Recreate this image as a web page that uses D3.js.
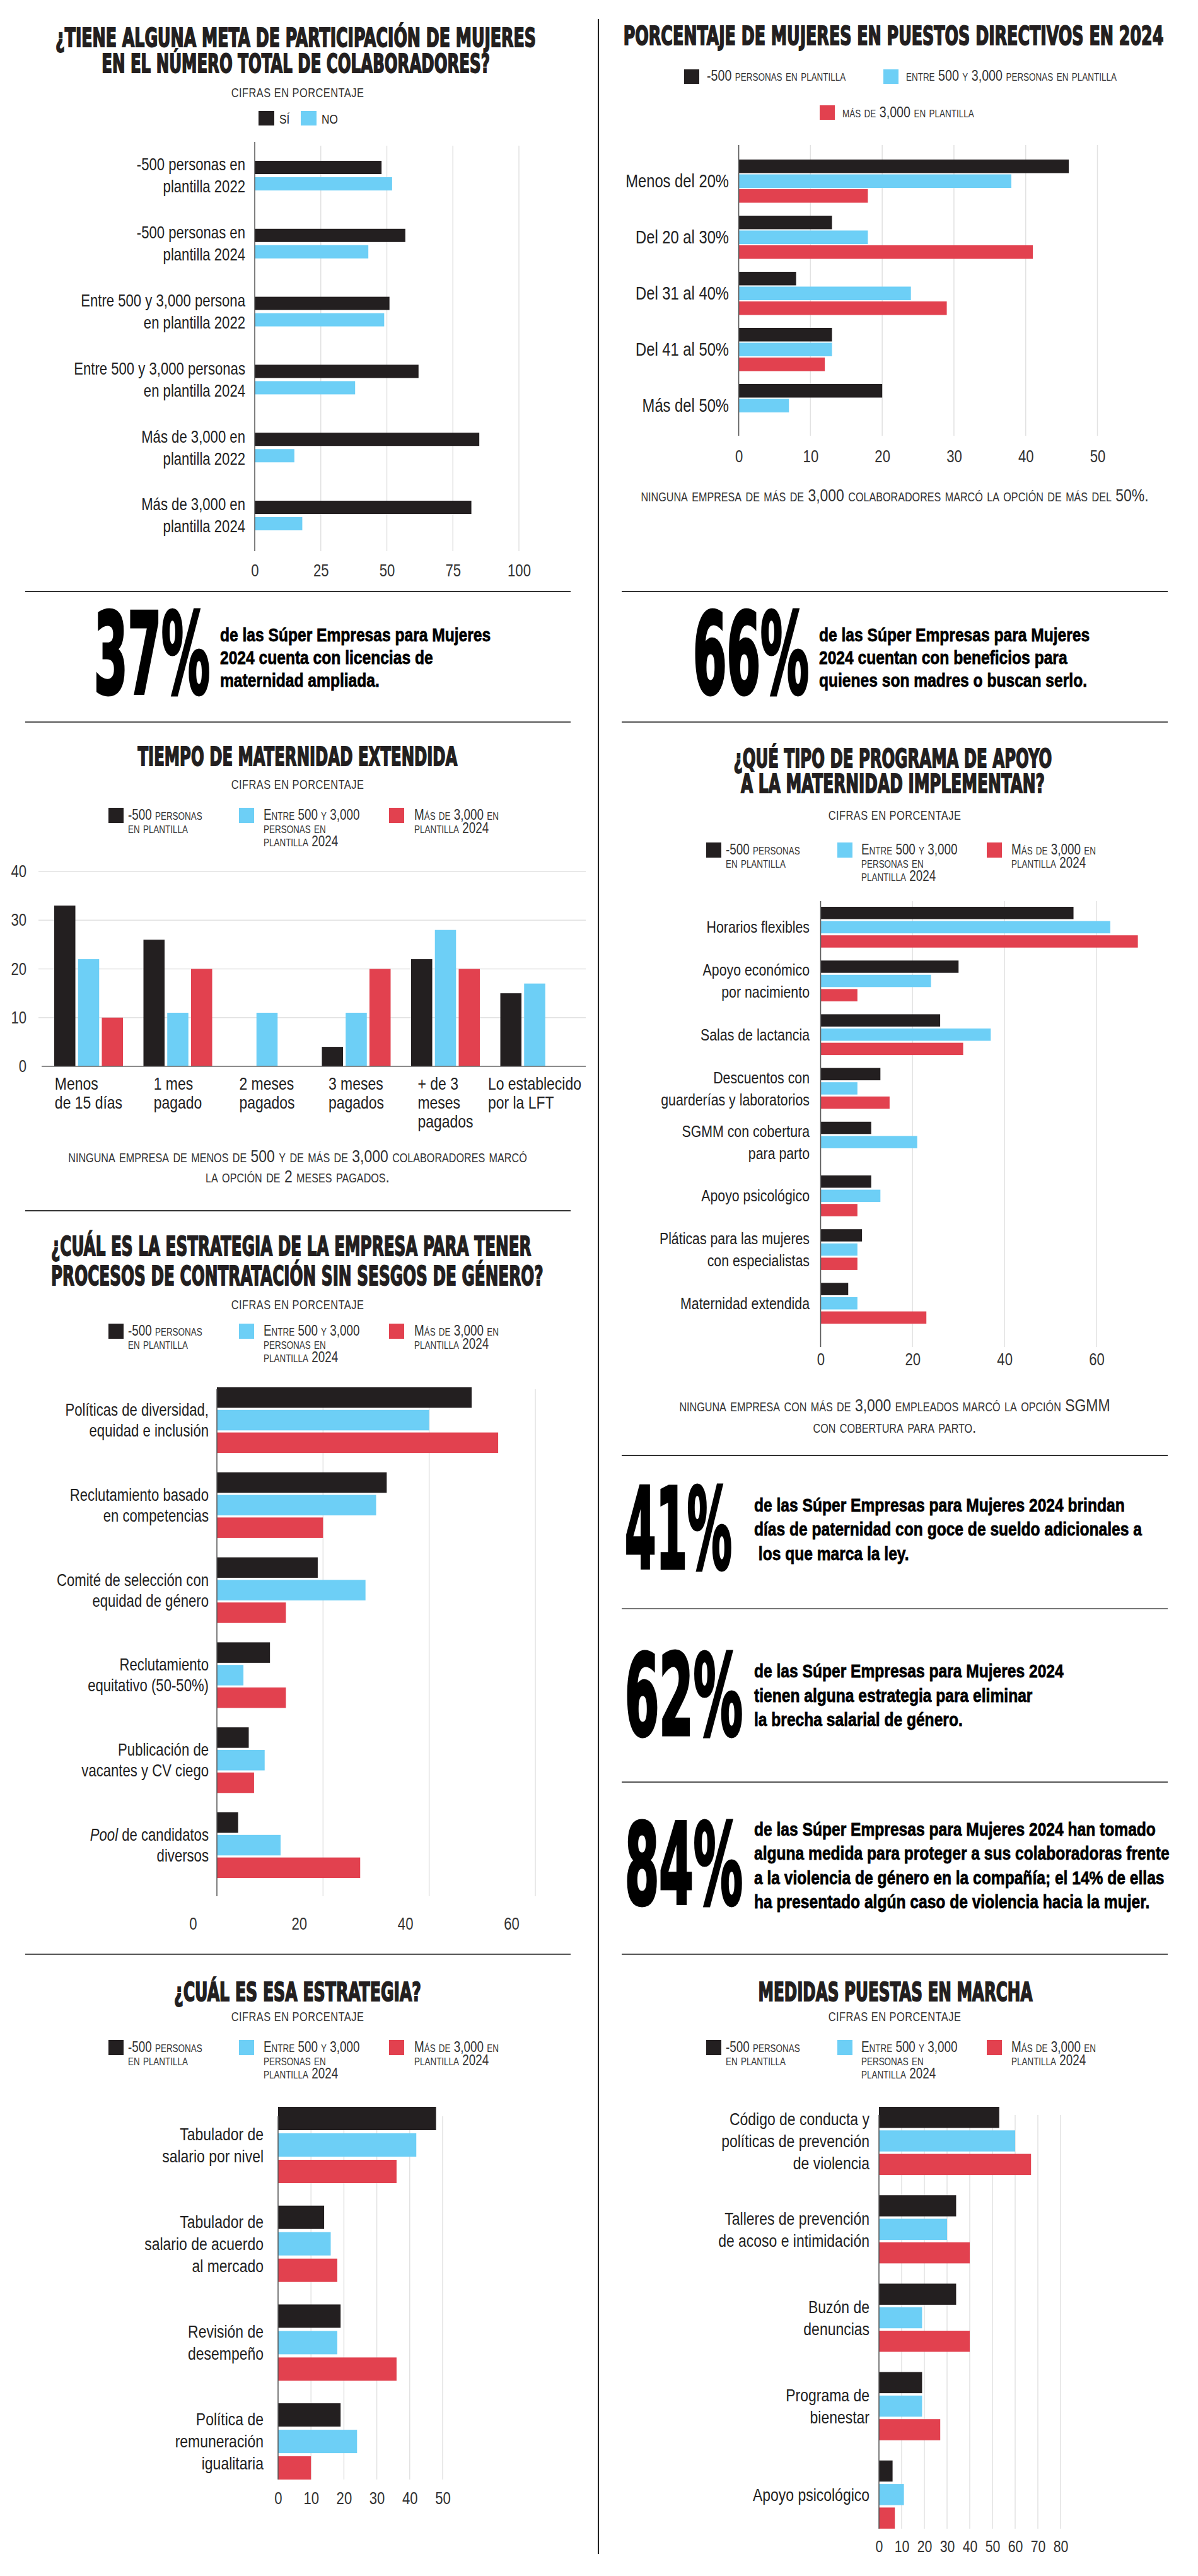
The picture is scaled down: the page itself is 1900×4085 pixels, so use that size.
<!DOCTYPE html>
<html>
<head>
<meta charset="utf-8">
<script src="https://cdn.jsdelivr.net/npm/d3@7"></script>
<style>
  body { margin: 0; background: #fff; }
  svg text { font-family: "Liberation Sans", Arial, sans-serif; }
</style>
</head>
<body>
<div id="page"></div>
<script>
// ---- data ----
const metaCategories = ["-500 personas en\nplantilla 2022", "-500 personas en\nplantilla 2024", "Entre 500 y 3,000 persona\nen plantilla 2022", "Entre 500 y 3,000 personas\nen plantilla 2024", "Más de 3,000 en\nplantilla 2022", "Más de 3,000 en\nplantilla 2024"];
const metaSi = [48, 57, 51, 62, 85, 82];
const metaNo = [52, 43, 49, 38, 15, 18];
const metaTicks = [0, 25, 50, 75, 100];

const directivosCategories = ["Menos del 20%", "Del 20 al 30%", "Del 31 al 40%", "Del 41 al 50%", "Más del 50%"];
const directivosMenos500 = [46, 13, 8, 13, 20];
const directivosEntre = [38, 18, 24, 13, 7];
const directivosMas3000 = [18, 41, 29, 12, null];
const directivosTicks = [0, 10, 20, 30, 40, 50];

const maternidadCategories = ["Menos\nde 15 días", "1 mes\npagado", "2 meses\npagados", "3 meses\npagados", "+ de 3\nmeses\npagados", "Lo establecido\npor la LFT"];
const maternidadMenos500 = [33, 26, 0, 4, 22, 15];
const maternidadEntre = [22, 11, 11, 11, 28, 17];
const maternidadMas3000 = [10, 20, 0, 20, 20, 0];
const maternidadTicks = [0, 10, 20, 30, 40];

const apoyoCategories = ["Horarios flexibles", "Apoyo económico\npor nacimiento", "Salas de lactancia", "Descuentos con\nguarderías y laboratorios", "SGMM con cobertura\npara parto", "Apoyo psicológico", "Pláticas para las mujeres\ncon especialistas", "Maternidad extendida"];
const apoyoMenos500 = [55, 30, 26, 13, 11, 11, 9, 6];
const apoyoEntre = [63, 24, 37, 8, 21, 13, 8, 8];
const apoyoMas3000 = [69, 8, 31, 15, null, 8, 8, 23];
const apoyoTicks = [0, 20, 40, 60];

const contratacionCategories = ["Políticas de diversidad,\nequidad e inclusión", "Reclutamiento basado\nen competencias", "Comité de selección con\nequidad de género", "Reclutamiento\nequitativo (50-50%)", "Publicación de\nvacantes y CV ciego", "Pool de candidatos\ndiversos"];
const contratacionMenos500 = [48, 32, 19, 10, 6, 4];
const contratacionEntre = [40, 30, 28, 5, 9, 12];
const contratacionMas3000 = [53, 20, 13, 13, 7, 27];
const contratacionTicks = [0, 20, 40, 60];

const esaCategories = ["Tabulador de\nsalario por nivel", "Tabulador de\nsalario de acuerdo\nal mercado", "Revisión de\ndesempeño", "Política de\nremuneración\nigualitaria"];
const esaMenos500 = [48, 14, 19, 19];
const esaEntre = [42, 16, 18, 24];
const esaMas3000 = [36, 18, 36, 10];
const esaTicks = [0, 10, 20, 30, 40, 50];

const medidasCategories = ["Código de conducta y\npolíticas de prevención\nde violencia", "Talleres de prevención\nde acoso e intimidación", "Buzón de\ndenuncias", "Programa de\nbienestar", "Apoyo psicológico"];
const medidasMenos500 = [53, 34, 34, 19, 6];
const medidasEntre = [60, 30, 19, 19, 11];
const medidasMas3000 = [67, 40, 40, 27, 7];
const medidasTicks = [0, 10, 20, 30, 40, 50, 60, 70, 80];

const seriesLabels = [["-500 personas", "en plantilla"], ["Entre 500 y 3,000", "personas en", "plantilla 2024"], ["Más de 3,000 en", "plantilla 2024"]];
const directivosLabels = ["-500 personas en plantilla", "entre 500 y 3,000 personas en plantilla", "más de 3,000 en plantilla"];

const stats = [
  { value: "37%", lines: ["de las Súper Empresas para Mujeres", "2024 cuenta con licencias de", "maternidad ampliada."] },
  { value: "66%", lines: ["de las Súper Empresas para Mujeres", "2024 cuentan con beneficios para", "quienes son madres o buscan serlo."] },
  { value: "41%", lines: ["de las Súper Empresas para Mujeres 2024 brindan", "días de paternidad con goce de sueldo adicionales a", " los que marca la ley."] },
  { value: "62%", lines: ["de las Súper Empresas para Mujeres 2024", "tienen alguna estrategia para eliminar", "la brecha salarial de género."] },
  { value: "84%", lines: ["de las Súper Empresas para Mujeres 2024 han tomado", "alguna medida para proteger a sus colaboradoras frente", "a la violencia de género en la compañía; el 14% de ellas", "ha presentado algún caso de violencia hacia la mujer."] }
];

const BLACK = "#231f20", BLUE = "#6dcff6", RED = "#e2414f";
const NARROW = 0.82;   // squeeze Liberation Sans to narrow width
const HEAVY = '"DejaVu Sans Condensed", "DejaVu Sans", sans-serif';

const svg = d3.select("#page").append("svg")
  .attr("width", 1900).attr("height", 4085)
  .style("background", "#fff");

// ---- helpers ----
// squeeze a text horizontally around its anchor x so it is `width` px wide
function fit(sel, width) {
  const node = sel.node();
  const w = node.getComputedTextLength();
  const x = +sel.attr("x");
  sel.classed("fit", true)
    .attr("transform", `translate(${x},0) scale(${width / w},1) translate(${-x},0)`);
  return sel;
}

function title(lines, x, baselines, lengths, size, anchor) {
  lines.forEach((t, i) => {
    const el = svg.append("text")
      .attr("x", x).attr("y", baselines[i])
      .attr("text-anchor", anchor || "middle")
      .attr("font-size", size).attr("font-weight", "bold")
      .style("font-family", HEAVY)
      .attr("fill", BLACK).attr("stroke", BLACK).attr("stroke-width", 1.8)
      .text(t);
    fit(el, lengths[i]);
  });
}

function cifras(x, y) {
  svg.append("text").attr("x", x).attr("y", y).attr("text-anchor", "middle")
    .attr("font-size", 20).attr("fill", "#333").attr("letter-spacing", 0.6)
    .text("CIFRAS EN PORCENTAJE");
}

function legend3(sqX, txX, top) {
  const colors = [BLACK, BLUE, RED];
  seriesLabels.forEach((lines, i) => {
    svg.append("rect").attr("x", sqX[i]).attr("y", top).attr("width", 24).attr("height", 24).attr("fill", colors[i]);
    lines.forEach((l, j) => {
      svg.append("text").attr("x", txX[i]).attr("y", top + 19 + j * 21)
        .attr("font-size", 23).attr("fill", "#333").style("font-variant", "small-caps")
        .text(l);
    });
  });
}

function note(lines, x, baselines) {
  lines.forEach((l, i) => {
    svg.append("text").attr("x", x).attr("y", baselines[i]).attr("text-anchor", "middle")
      .attr("font-size", 28).attr("fill", "#333").style("font-variant", "small-caps")
      .text(l);
  });
}

function hline(x1, x2, y, color) {
  svg.append("line").attr("x1", x1).attr("x2", x2).attr("y1", y).attr("y2", y)
    .attr("stroke", color || "#333").attr("stroke-width", 2);
}

function labelLine(sel, line) {
  if (line.startsWith("Pool ")) {
    sel.append("tspan").attr("font-style", "italic").text("Pool");
    sel.append("tspan").text(line.slice(4));
  } else {
    sel.text(line);
  }
}

function hbar(o) {
  const g = svg.append("g");
  const n = o.categories.length, k = o.series.length;
  const bw = k * o.barH + (k - 1) * o.gap;
  const y = d3.scaleBand().domain(o.categories)
    .range([o.top, o.top + (n - 1) * o.groupStep + bw])
    .paddingInner(1 - bw / o.groupStep).paddingOuter(0);
  const ySub = d3.scaleBand().domain(d3.range(k)).range([0, bw])
    .paddingInner(o.gap / (o.barH + o.gap));
  const x = d3.scaleLinear().domain(o.domain).range(o.range);

  g.append("g").selectAll("line").data(o.ticks.filter(t => t > 0)).join("line")
    .attr("x1", d => x(d)).attr("x2", d => x(d))
    .attr("y1", o.gridTop).attr("y2", o.gridBottom)
    .attr("stroke", "#e2e2e2").attr("stroke-width", 1.5);

  o.series.forEach((s, i) => {
    const rows = o.categories.map((c, j) => ({ c: c, v: s.values[j] })).filter(d => d.v);
    g.append("g").selectAll("rect").data(rows).join("rect")
      .attr("x", x(0)).attr("y", d => y(d.c) + ySub(i))
      .attr("width", d => x(d.v) - x(0)).attr("height", ySub.bandwidth())
      .attr("fill", s.color);
  });

  g.append("line").attr("x1", x(0)).attr("x2", x(0))
    .attr("y1", o.axisTop).attr("y2", o.gridBottom)
    .attr("stroke", "#555").attr("stroke-width", 1.5);

  const ax = g.append("g").attr("transform", `translate(0,${o.tickY})`)
    .call(d3.axisBottom(x).tickValues(o.ticks).tickSize(0).tickPadding(0));
  ax.select(".domain").remove();
  ax.attr("font-family", null).attr("font-size", o.tickSize);
  ax.selectAll("text").attr("y", 0).attr("dy", 0).attr("dx", (o.tickDx || 0) / NARROW).style("fill", "#333");

  o.categories.forEach(c => {
    const lines = c.split("\n");
    const cy = y(c) + bw / 2;
    lines.forEach((l, j) => {
      const t = g.append("text").attr("x", o.labelX)
        .attr("y", cy - (lines.length - 1) * o.lineH / 2 + j * o.lineH + o.labelSize * 0.35)
        .attr("text-anchor", "end").attr("font-size", o.labelSize).attr("fill", "#222");
      labelLine(t, l);
    });
  });
}

// ---- frame ----
svg.append("line").attr("x1", 949).attr("x2", 949).attr("y1", 30).attr("y2", 4050)
  .attr("stroke", "#222").attr("stroke-width", 2);
hline(40, 905, 938); hline(40, 905, 1145, "#555"); hline(40, 905, 1920); hline(40, 905, 3099, "#555");
hline(986, 1852, 938); hline(986, 1852, 1145, "#555"); hline(986, 1852, 2308); hline(986, 1852, 2551, "#777");
hline(986, 1852, 2826, "#555"); hline(986, 1852, 3099, "#555");

// ---- chart 1 ----
title(["¿TIENE ALGUNA META DE PARTICIPACIÓN DE MUJERES", "EN EL NÚMERO TOTAL DE COLABORADORES?"], 469, [74, 115], [762, 616], 40);
cifras(472, 154);
[["SÍ", BLACK, 410], ["NO", BLUE, 477]].forEach(d => {
  svg.append("rect").attr("x", d[2]).attr("y", 176).attr("width", 25).attr("height", 23).attr("fill", d[1]);
  svg.append("text").attr("x", d[2] + 33).attr("y", 196).attr("font-size", 21).attr("fill", "#222").text(d[0]);
});
hbar({
  categories: metaCategories,
  series: [{ values: metaSi, color: BLACK }, { values: metaNo, color: BLUE }],
  domain: [0, 100], range: [404, 823], ticks: metaTicks,
  top: 255, barH: 21, gap: 5, groupStep: 107.8,
  gridTop: 231, gridBottom: 874, axisTop: 225, tickY: 914, tickSize: 27,
  labelX: 389, labelSize: 27, lineH: 35
});

// ---- chart 2 ----
title(["PORCENTAJE DE MUJERES EN PUESTOS DIRECTIVOS EN 2024"], 1417, [71], [857], 40);
[[BLACK, 1085, 110, 1121, 128], [BLUE, 1401, 110, 1437, 128], [RED, 1300, 167, 1336, 186]].forEach((d, i) => {
  svg.append("rect").attr("x", d[1]).attr("y", d[2]).attr("width", 24).attr("height", 23).attr("fill", d[0]);
  svg.append("text").attr("x", d[3]).attr("y", d[4]).attr("font-size", 24).attr("fill", "#333")
    .style("font-variant", "small-caps").text(directivosLabels[i]);
});
hbar({
  categories: directivosCategories,
  series: [{ values: directivosMenos500, color: BLACK }, { values: directivosEntre, color: BLUE }, { values: directivosMas3000, color: RED }],
  domain: [0, 50], range: [1171.6, 1740.5], ticks: directivosTicks,
  top: 253, barH: 21.5, gap: 2, groupStep: 89,
  gridTop: 230, gridBottom: 691, axisTop: 230, tickY: 733, tickSize: 27,
  labelX: 1156, labelSize: 29, lineH: 33
});
note(["ninguna empresa de más de 3,000 colaboradores marcó la opción de más del 50%."], 1419, [795]);

// ---- stats ----
function stat(s, nx, nw, bottom, tx, baselines) {
  const num = svg.append("text").attr("x", nx).attr("y", bottom)
    .attr("font-size", 178).attr("font-weight", "bold")
    .style("font-family", HEAVY)
    .attr("fill", "#000").attr("stroke", "#000").attr("stroke-width", 5)
    .text(s.value);
  fit(num, nw);
  s.lines.forEach((l, i) => {
    svg.append("text").attr("x", tx).attr("y", baselines[i])
      .attr("font-size", 30).attr("font-weight", "bold").attr("fill", "#000")
      .attr("stroke", "#000").attr("stroke-width", 0.8)
      .style("white-space", "pre").text(l);
  });
}
stat(stats[0], 149, 184, 1099, 349, [1017, 1053, 1089]);
stat(stats[1], 1099, 184, 1099, 1299, [1017, 1053, 1089]);
stat(stats[2], 991, 170, 2487, 1196, [2397, 2435, 2474]);
stat(stats[3], 991, 187, 2751, 1196, [2660, 2699, 2737]);
stat(stats[4], 991, 187, 3019, 1196, [2911, 2949, 2988, 3026]);

// ---- chart 3 (vertical) ----
title(["TIEMPO DE MATERNIDAD EXTENDIDA"], 472, [1214], [507], 41);
cifras(472, 1251);
legend3([172, 379, 617], [203, 418, 657], 1281);
(function () {
  const g = svg.append("g");
  const x = d3.scaleBand().domain(maternidadCategories).range([86, 902.5]).paddingInner(0.2297);
  const xSub = d3.scaleBand().domain([0, 1, 2]).range([0, x.bandwidth()]).paddingInner(4.2 / 37.6);
  const y = d3.scaleLinear().domain([0, 40]).range([1691, 1382]);
  g.append("g").selectAll("line").data(maternidadTicks.filter(t => t > 0)).join("line")
    .attr("x1", 61).attr("x2", 929).attr("y1", d => y(d)).attr("y2", d => y(d))
    .attr("stroke", "#e2e2e2").attr("stroke-width", 1.5);
  const series = [maternidadMenos500, maternidadEntre, maternidadMas3000];
  const colors = [BLACK, BLUE, RED];
  series.forEach((vals, i) => {
    const rows = maternidadCategories.map((c, j) => ({ c: c, v: vals[j] })).filter(d => d.v);
    g.append("g").selectAll("rect").data(rows).join("rect")
      .attr("x", d => x(d.c) + xSub(i)).attr("width", xSub.bandwidth())
      .attr("y", d => y(d.v)).attr("height", d => y(0) - y(d.v))
      .attr("fill", colors[i]);
  });
  g.append("line").attr("x1", 66).attr("x2", 929).attr("y1", y(0)).attr("y2", y(0))
    .attr("stroke", "#666").attr("stroke-width", 1.5);
  const ax = g.append("g").attr("transform", "translate(42,0)")
    .call(d3.axisLeft(y).tickValues(maternidadTicks).tickSize(0).tickPadding(0));
  ax.select(".domain").remove();
  ax.attr("font-family", null).attr("font-size", 27);
  ax.selectAll("text").style("fill", "#333");
  maternidadCategories.forEach(c => {
    const lines = c.split("\n");
    const cx = x(c) + x.bandwidth() / 2;
    const txt = lines.map((l, j) => g.append("text").attr("y", 1728 + j * 30)
      .attr("font-size", 28).attr("fill", "#222").text(l));
    const w = d3.max(txt, t => t.node().getComputedTextLength()) * NARROW;
    txt.forEach(t => t.attr("x", cx - w / 2));
  });
})();
note(["ninguna empresa de menos de 500 y de más de 3,000 colaboradores marcó", "la opción de 2 meses pagados."], 472, [1843, 1875]);

// ---- chart 4 ----
title(["¿QUÉ TIPO DE PROGRAMA DE APOYO", "A LA MATERNIDAD IMPLEMENTAN?"], 1416, [1217, 1257], [505, 482], 40);
cifras(1419, 1300);
legend3([1120, 1328, 1565], [1151, 1366, 1604], 1336);
hbar({
  categories: apoyoCategories,
  series: [{ values: apoyoMenos500, color: BLACK }, { values: apoyoEntre, color: BLUE }, { values: apoyoMas3000, color: RED }],
  domain: [0, 60], range: [1301.5, 1739], ticks: apoyoTicks,
  top: 1438, barH: 19.5, gap: 3.1, groupStep: 85.2,
  gridTop: 1429, gridBottom: 2136, axisTop: 1429, tickY: 2165, tickSize: 27,
  labelX: 1284, labelSize: 26, lineH: 35
});
note(["ninguna empresa con más de 3,000 empleados marcó la opción SGMM", "con cobertura para parto."], 1419, [2238, 2272]);

// ---- chart 5 ----
title(["¿CUÁL ES LA ESTRATEGIA DE LA EMPRESA PARA TENER", "PROCESOS DE CONTRATACIÓN SIN SESGOS DE GÉNERO?"], 81, [1991, 2038], [762, 781], 43, "start");
cifras(472, 2076);
legend3([172, 379, 617], [203, 418, 657], 2099);
hbar({
  categories: contratacionCategories,
  series: [{ values: contratacionMenos500, color: BLACK }, { values: contratacionEntre, color: BLUE }, { values: contratacionMas3000, color: RED }],
  domain: [0, 60], range: [344, 849], ticks: contratacionTicks,
  top: 2200, barH: 32.5, gap: 3.3, groupStep: 134.8,
  gridTop: 2203, gridBottom: 3007, axisTop: 2203, tickY: 3060, tickSize: 27, tickDx: -38,
  labelX: 331, labelSize: 27, lineH: 33
});

// ---- chart 6 ----
title(["¿CUÁL ES ESA ESTRATEGIA?"], 472, [3173], [392], 40);
cifras(472, 3205);
legend3([172, 379, 617], [203, 418, 657], 3235);
hbar({
  categories: esaCategories,
  series: [{ values: esaMenos500, color: BLACK }, { values: esaEntre, color: BLUE }, { values: esaMas3000, color: RED }],
  domain: [0, 50], range: [441, 702], ticks: esaTicks,
  top: 3341, barH: 37, gap: 5, groupStep: 156.7,
  gridTop: 3356, gridBottom: 3932, axisTop: 3356, tickY: 3971, tickSize: 27,
  labelX: 418, labelSize: 28, lineH: 35
});

// ---- chart 7 ----
title(["MEDIDAS PUESTAS EN MARCHA"], 1420, [3173], [435], 40);
cifras(1419, 3205);
legend3([1120, 1328, 1565], [1151, 1366, 1604], 3235);
hbar({
  categories: medidasCategories,
  series: [{ values: medidasMenos500, color: BLACK }, { values: medidasEntre, color: BLUE }, { values: medidasMas3000, color: RED }],
  domain: [0, 80], range: [1394, 1682], ticks: medidasTicks,
  top: 3341, barH: 33.5, gap: 3.8, groupStep: 140.2,
  gridTop: 3354, gridBottom: 4010, axisTop: 3354, tickY: 4047, tickSize: 26,
  labelX: 1379, labelSize: 28, lineH: 35
});

// condense every body text around its anchor x (narrow face look)
svg.selectAll("text").filter(function () { return !this.classList.contains("fit"); })
  .each(function () {
    const x = +(this.getAttribute("x") || 0);
    this.setAttribute("transform", `translate(${x},0) scale(${NARROW},1) translate(${-x},0)`);
  });
</script>
</body>
</html>
